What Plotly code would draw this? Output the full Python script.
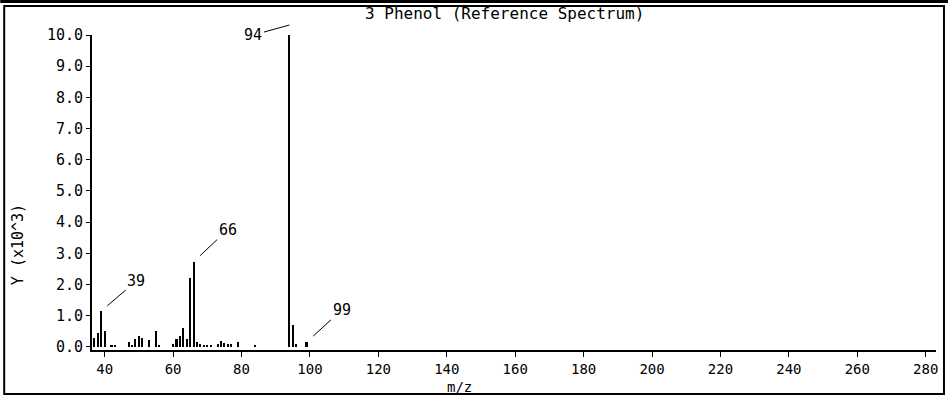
import plotly.graph_objects as go

# ---- data (m/z, abundance in units of 10^3) ----
mz = [37, 38, 39, 40, 42, 43, 47, 48, 49, 50, 51, 53, 55, 56,
      60, 61, 62, 63, 64, 65, 66, 67, 68, 69, 70, 71, 73, 74, 75, 76, 77, 79, 84,
      94, 95, 96, 99]
abundance = [0.30, 0.45, 1.15, 0.52, 0.07, 0.04, 0.15, 0.07, 0.24, 0.34, 0.29, 0.21, 0.52, 0.04,
             0.10, 0.24, 0.34, 0.59, 0.24, 2.20, 2.73, 0.15, 0.10, 0.05, 0.05, 0.05, 0.10, 0.20, 0.13, 0.10, 0.10, 0.15, 0.04,
             10.0, 0.70, 0.10, 0.15]
labeled_mz = [39, 66, 94, 99]
x_ticks = [40, 60, 80, 100, 120, 140, 160, 180, 200, 220, 240, 260, 280]
y_ticks = [0, 1, 2, 3, 4, 5, 6, 7, 8, 9, 10]
title_text = "3 Phenol (Reference Spectrum)"
x_title = "m/z"
y_title = "Y (x10^3)"

FONT = "DejaVu Sans Mono"

# plot area geometry in pixels
L, R, T, B = 92, 938, 35, 350
W, H = 950, 397
pw, ph = R - L, B - T


def px(xp):
    return (xp - L) / pw


def py(yp):
    return (B - yp) / ph


fig = go.Figure()
fig.add_trace(go.Bar(x=mz, y=abundance, width=0.6,
                     marker=dict(color="black", line=dict(width=0)),
                     hoverinfo="x+y"))

# peak labels: (ax, ay, standoff, yshift px)
label_style = {39: (35, -30, 8, 0), 66: (34, -32, 9, 0), 94: (-36, 10, 0, 10), 99: (35, -32, 9, 0)}
lookup = dict(zip(mz, abundance))
for m in labeled_mz:
    ax, ay, so, ys = label_style[m]
    fig.add_annotation(x=m, y=lookup[m], xref="x", yref="y", yshift=ys,
                       text=str(m), showarrow=True, arrowhead=0, arrowwidth=1,
                       arrowcolor="black", ax=ax, ay=ay, standoff=so,
                       font=dict(family=FONT, size=15, color="black"))

fig.add_annotation(text=title_text, xref="paper", yref="paper", x=px(505), y=py(13),
                   xanchor="center", yanchor="middle",
                   showarrow=False, font=dict(family=FONT, size=16, color="black"))
fig.add_annotation(text=x_title, xref="paper", yref="paper", x=px(460), y=py(387),
                   xanchor="center", yanchor="middle",
                   showarrow=False, font=dict(family=FONT, size=14, color="black"))
fig.add_annotation(text=y_title, xref="paper", yref="paper", x=px(18), y=py(245),
                   xanchor="center", yanchor="middle",
                   showarrow=False, textangle=-90, font=dict(family=FONT, size=15, color="black"))

# frame
fig.add_shape(type="line", xref="paper", yref="paper", x0=px(0), x1=px(950), y0=py(1.5), y1=py(1.5),
              line=dict(color="black", width=3))
fig.add_shape(type="rect", xref="paper", yref="paper", x0=px(4), x1=px(946), y0=py(394), y1=py(6),
              line=dict(color="black", width=2))

fig.update_layout(
    width=W, height=H,
    margin=dict(l=L, r=W - R, t=T, b=H - B),
    paper_bgcolor="white", plot_bgcolor="white",
    showlegend=False, bargap=0,
    font=dict(family=FONT, size=15, color="black"),
)
fig.update_xaxes(range=[36.3, 283.0], tickvals=x_ticks, ticktext=[str(v) for v in x_ticks],
                 showgrid=False, zeroline=False, showline=True, linecolor="black", linewidth=2,
                 ticks="outside", ticklen=5, tickwidth=1, tickcolor="black",
                 tickfont=dict(family=FONT, size=14, color="black"))
fig.update_yaxes(range=[-0.1, 10.0], tickvals=y_ticks, ticktext=[f"{v:.1f}" for v in y_ticks],
                 showgrid=False, zeroline=False, showline=True, linecolor="black", linewidth=2,
                 ticks="outside", ticklen=4, tickwidth=1, tickcolor="black",
                 tickfont=dict(family=FONT, size=15, color="black"))

fig.write_html("out.html", config={"displayModeBar": False},
               post_script="document.body.style.margin='0';document.body.style.overflow='hidden';")
